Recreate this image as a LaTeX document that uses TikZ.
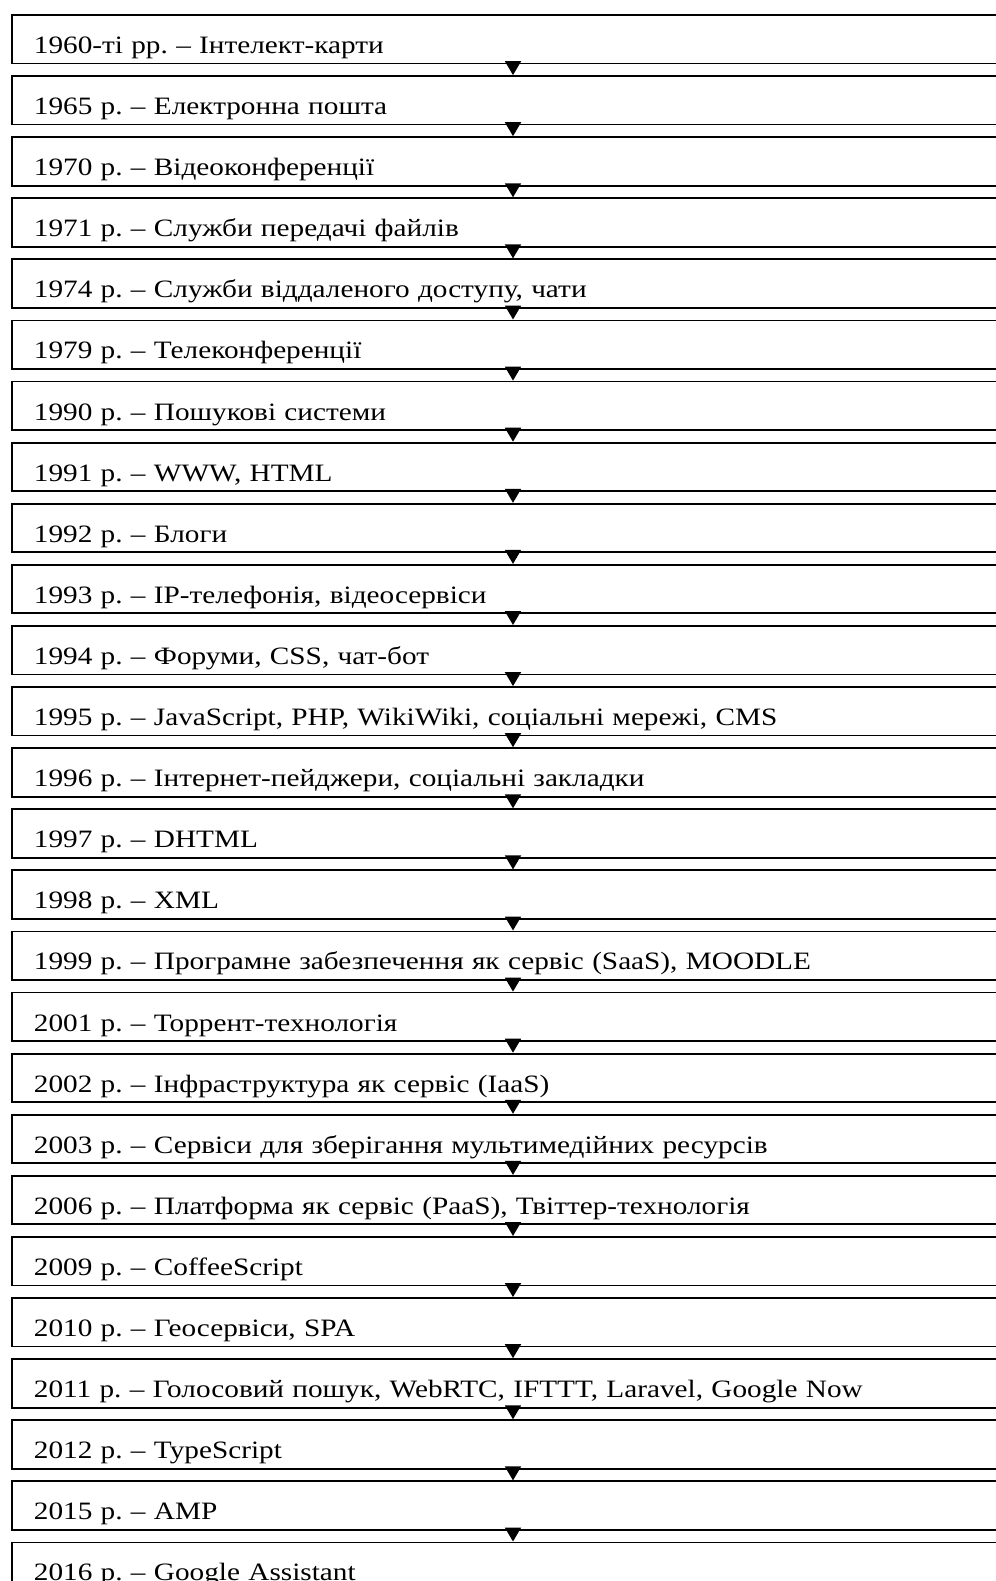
\documentclass[tikz,border=0pt]{standalone}
\usepackage{fontspec}
\setmainfont{Liberation Serif}[FakeStretch=1.17]
\frenchspacing
\usetikzlibrary{positioning, arrows.meta}
\tikzset{
	period/.style={draw, rectangle, line width=0.9pt, inner xsep=11pt, inner ysep=0pt, text width=520pt, text height=19.25pt, text depth=5pt, align=left, font=\fontsize{12.5}{15}\selectfont},
	link/.style={line width=0.9pt, -{Triangle[width=8pt, length=7pt]}},
}
\begin{document}
\begin{tikzpicture}[x=0.5pt, y=-0.5pt, node distance=5.4pt]
\useasboundingbox (0,0) rectangle (996,1581);
\clip (0,0) rectangle (996,1581);

\coordinate (axis) at (513,0);

\node (p1960) [period, anchor=north west] at (11,14) {1960-ті рр. – Інтелект-карти};
\node (p1965) [period, below=of p1960] {1965 р. – Електронна пошта};
\node (p1970) [period, below=of p1965] {1970 р. – Відеоконференції};
\node (p1971) [period, below=of p1970] {1971 р. – Служби передачі файлів};
\node (p1974) [period, below=of p1971] {1974 р. – Служби віддаленого доступу, чати};
\node (p1979) [period, below=of p1974] {1979 р. – Телеконференції};
\node (p1990) [period, below=of p1979] {1990 р. – Пошукові системи};
\node (p1991) [period, below=of p1990] {1991 р. – WWW, HTML};
\node (p1992) [period, below=of p1991] {1992 р. – Блоги};
\node (p1993) [period, below=of p1992] {1993 р. – IP-телефонія, відеосервіси};
\node (p1994) [period, below=of p1993] {1994 р. – Форуми, CSS, чат-бот};
\node (p1995) [period, below=of p1994] {1995 р. – JavaScript, PHP, WikiWiki, соціальні мережі, CMS};
\node (p1996) [period, below=of p1995] {1996 р. – Інтернет-пейджери, соціальні закладки};
\node (p1997) [period, below=of p1996] {1997 р. – DHTML};
\node (p1998) [period, below=of p1997] {1998 р. – XML};
\node (p1999) [period, below=of p1998] {1999 р. – Програмне забезпечення як сервіс (SaaS), MOODLE};
\node (p2001) [period, below=of p1999] {2001 р. – Торрент-технологія};
\node (p2002) [period, below=of p2001] {2002 р. – Інфраструктура як сервіс (IaaS)};
\node (p2003) [period, below=of p2002] {2003 р. – Сервіси для зберігання мультимедійних ресурсів};
\node (p2006) [period, below=of p2003] {2006 р. – Платформа як сервіс (PaaS), Твіттер-технологія};
\node (p2009) [period, below=of p2006] {2009 р. – CoffeeScript};
\node (p2010) [period, below=of p2009] {2010 р. – Геосервіси, SPA};
\node (p2011) [period, below=of p2010] {2011 р. – Голосовий пошук, WebRTC, IFTTT, Laravel, Google Now};
\node (p2012) [period, below=of p2011] {2012 р. – TypeScript};
\node (p2015) [period, below=of p2012] {2015 р. – AMP};
\node (p2016) [period, below=of p2015] {2016 р. – Google Assistant};

\begin{scope}[link]
	\draw (p1960.south -| axis) -- (p1965.north -| axis);
	\draw (p1965.south -| axis) -- (p1970.north -| axis);
	\draw (p1970.south -| axis) -- (p1971.north -| axis);
	\draw (p1971.south -| axis) -- (p1974.north -| axis);
	\draw (p1974.south -| axis) -- (p1979.north -| axis);
	\draw (p1979.south -| axis) -- (p1990.north -| axis);
	\draw (p1990.south -| axis) -- (p1991.north -| axis);
	\draw (p1991.south -| axis) -- (p1992.north -| axis);
	\draw (p1992.south -| axis) -- (p1993.north -| axis);
	\draw (p1993.south -| axis) -- (p1994.north -| axis);
	\draw (p1994.south -| axis) -- (p1995.north -| axis);
	\draw (p1995.south -| axis) -- (p1996.north -| axis);
	\draw (p1996.south -| axis) -- (p1997.north -| axis);
	\draw (p1997.south -| axis) -- (p1998.north -| axis);
	\draw (p1998.south -| axis) -- (p1999.north -| axis);
	\draw (p1999.south -| axis) -- (p2001.north -| axis);
	\draw (p2001.south -| axis) -- (p2002.north -| axis);
	\draw (p2002.south -| axis) -- (p2003.north -| axis);
	\draw (p2003.south -| axis) -- (p2006.north -| axis);
	\draw (p2006.south -| axis) -- (p2009.north -| axis);
	\draw (p2009.south -| axis) -- (p2010.north -| axis);
	\draw (p2010.south -| axis) -- (p2011.north -| axis);
	\draw (p2011.south -| axis) -- (p2012.north -| axis);
	\draw (p2012.south -| axis) -- (p2015.north -| axis);
	\draw (p2015.south -| axis) -- (p2016.north -| axis);
\end{scope}
\end{tikzpicture}
\end{document}
